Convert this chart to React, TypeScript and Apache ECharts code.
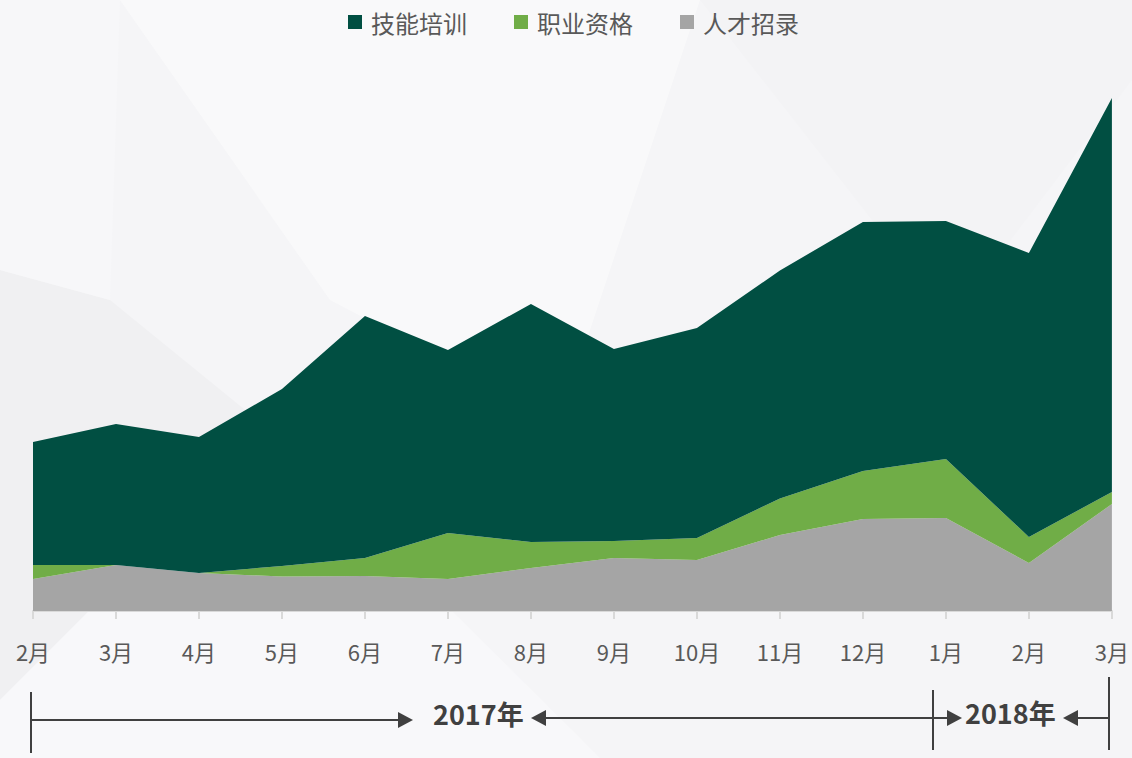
import React, { useEffect, useRef } from "react";
import * as echarts from "echarts";

const categories = ["2月", "3月", "4月", "5月", "6月", "7月", "8月", "9月", "10月", "11月", "12月", "1月", "2月", "3月"];
const skillTraining = [123, 141, 136, 177, 242, 183, 238, 192, 210, 228, 249, 238, 284, 394];
const qualification = [14, 0, 0, 10.5, 18, 46, 26, 17, 22, 36.5, 48, 59, 26, 12];
const recruitment = [32, 46, 38, 34.5, 35, 32, 43, 53, 51, 76, 92, 93, 48, 107];
const legendNames = ["技能培训", "职业资格", "人才招录"];
const yearLabels = ["2017年", "2018年"];

const FONT = "'Noto Sans CJK SC', 'Noto Sans', sans-serif";
const LINE = "#404040";

export default function App() {
  const ref = useRef<HTMLDivElement>(null);
  useEffect(() => {
    if (!ref.current) return;
    const chart = echarts.init(ref.current, null, { renderer: "svg" });
    const arrowStyle = { fill: LINE };
    const lineStyle = { stroke: LINE, lineWidth: 2 };
    chart.setOption({
      animation: false,
      backgroundColor: "#f5f5f7",
      textStyle: { fontFamily: FONT },
      legend: {
        data: legendNames,
        top: 5,
        left: 343,
        icon: "rect",
        itemWidth: 14,
        itemHeight: 14,
        itemGap: 47,
        textStyle: { fontSize: 24, color: "#595959", fontFamily: FONT, padding: [0, 0, 0, 4] },
      },
      grid: { left: 33, right: 20, top: 91, bottom: 147, containLabel: false },
      xAxis: {
        type: "category",
        data: categories,
        boundaryGap: false,
        axisLine: { lineStyle: { color: "#d9d9d9", width: 2 } },
        axisTick: { show: true, length: 8, lineStyle: { color: "#d9d9d9", width: 2 } },
        axisLabel: { color: "#595959", fontSize: 22, margin: 29, fontFamily: FONT, interval: 0 },
        splitLine: { show: false },
      },
      yAxis: { type: "value", min: 0, max: 520, show: false, splitLine: { show: false } },
      series: [
        {
          name: "人才招录",
          type: "line",
          stack: "total",
          data: recruitment,
          showSymbol: false,
          symbol: "none",
          lineStyle: { width: 0 },
          itemStyle: { color: "#a5a5a5" },
          areaStyle: { color: "#a5a5a5", opacity: 1 },
        },
        {
          name: "职业资格",
          type: "line",
          stack: "total",
          data: qualification,
          showSymbol: false,
          symbol: "none",
          lineStyle: { width: 0 },
          itemStyle: { color: "#70ad47" },
          areaStyle: { color: "#70ad47", opacity: 1 },
        },
        {
          name: "技能培训",
          type: "line",
          stack: "total",
          data: skillTraining,
          showSymbol: false,
          symbol: "none",
          lineStyle: { width: 0 },
          itemStyle: { color: "#014f42" },
          areaStyle: { color: "#014f42", opacity: 1 },
        },
      ],
      graphic: [
        // subtle background facets
        { type: "polygon", z: -10, silent: true, shape: { points: [[120, 0], [700, 0], [560, 420], [330, 300]] }, style: { fill: "#f9f9fa" } },
        { type: "polygon", z: -10, silent: true, shape: { points: [[0, 270], [110, 300], [270, 430], [0, 700]] }, style: { fill: "#f0f0f2" } },
        { type: "polygon", z: -10, silent: true, shape: { points: [[700, 0], [1132, 0], [1132, 80], [950, 320]] }, style: { fill: "#f3f3f5" } },
        { type: "polygon", z: -10, silent: true, shape: { points: [[0, 0], [120, 0], [110, 300], [0, 270]] }, style: { fill: "#f7f7f9" } },
        { type: "polygon", z: -10, silent: true, shape: { points: [[0, 700], [270, 430], [600, 758], [0, 758]] }, style: { fill: "#f8f8fa" } },
        // bottom year annotation
        { type: "line", shape: { x1: 31, y1: 692, x2: 31, y2: 753 }, style: lineStyle },
        { type: "line", shape: { x1: 933, y1: 690, x2: 933, y2: 750 }, style: lineStyle },
        { type: "line", shape: { x1: 1109, y1: 677, x2: 1109, y2: 750 }, style: lineStyle },
        { type: "line", shape: { x1: 31, y1: 720, x2: 400, y2: 720 }, style: lineStyle },
        { type: "polygon", shape: { points: [[413, 720], [398, 712], [398, 728]] }, style: arrowStyle },
        {
          type: "text",
          left: 433,
          top: 700,
          style: { text: yearLabels[0], font: `bold 27px ${FONT}`, fill: LINE },
        },
        { type: "polygon", shape: { points: [[531, 718], [546, 710], [546, 726]] }, style: arrowStyle },
        { type: "line", shape: { x1: 544, y1: 718, x2: 933, y2: 718 }, style: lineStyle },
        { type: "line", shape: { x1: 933, y1: 718, x2: 950, y2: 718 }, style: lineStyle },
        { type: "polygon", shape: { points: [[962, 718], [947, 710], [947, 726]] }, style: arrowStyle },
        {
          type: "text",
          left: 965,
          top: 699,
          style: { text: yearLabels[1], font: `bold 27px ${FONT}`, fill: LINE },
        },
        { type: "polygon", shape: { points: [[1063, 718], [1078, 710], [1078, 726]] }, style: arrowStyle },
        { type: "line", shape: { x1: 1076, y1: 718, x2: 1109, y2: 718 }, style: lineStyle },
      ],
    });
    return () => chart.dispose();
  }, []);
  return <div ref={ref} style={{ width: 1132, height: 758, position: "absolute", left: 0, top: 0 }} />;
}
